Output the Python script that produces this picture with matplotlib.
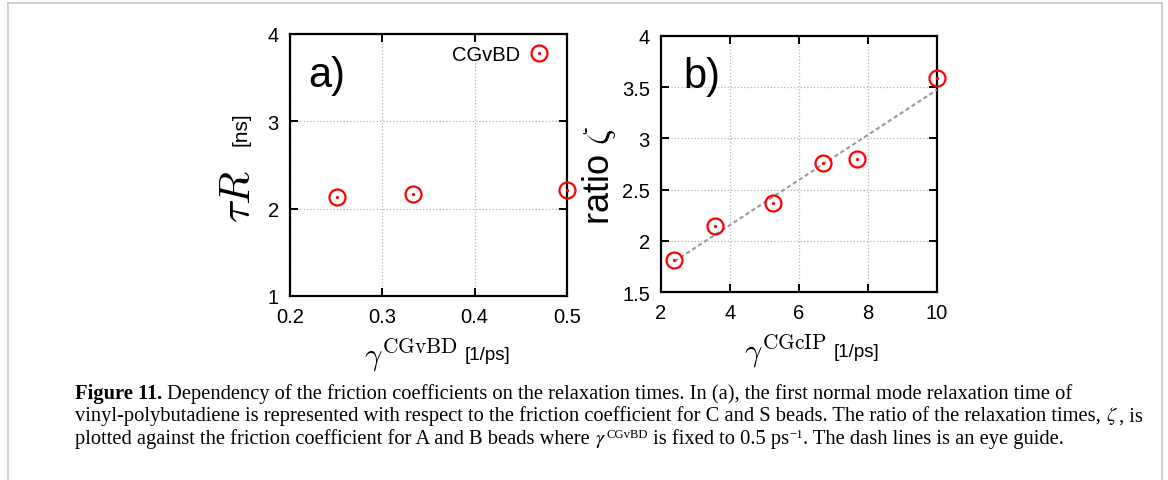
import numpy as np
import matplotlib
matplotlib.use("Agg")
import matplotlib.pyplot as plt
from matplotlib.lines import Line2D
from matplotlib.ticker import FuncFormatter
from matplotlib.legend_handler import HandlerTuple

plt.rcParams["font.family"] = "Liberation Sans"

# ---------------------------------------------------------------------------
# Dati
# ---------------------------------------------------------------------------
# pannello a): tau_R contro gamma^CGvBD
gamma_vbd = [0.251, 0.333, 0.500]
tau_r = [2.13, 2.17, 2.21]

# pannello b): rapporto zeta contro gamma^CGcIP
gamma_cip = [2.39, 3.57, 5.26, 6.69, 7.68, 10.0]
ratio_zeta = [1.81, 2.15, 2.37, 2.76, 2.80, 3.59]

a_xticks = [0.2, 0.3, 0.4, 0.5]
a_yticks = [1, 2, 3, 4]
b_xticks = [2, 4, 6, 8, 10]
b_yticks = [1.5, 2, 2.5, 3, 3.5, 4]

# didascalia: ogni riga e' una lista di pezzi (testo, stile)
# stile: "b" grassetto, "r" normale, "m" math, "s" apice
caption = [
    [("Figure 11.", "b"),
     (" Dependency of the friction coefficients on the relaxation times. In (a), the first normal mode relaxation time of", "r")],
    [("vinyl-polybutadiene is represented with respect to the friction coefficient for C and S beads. The ratio of the relaxation times, ", "r"),
     (r"$\zeta$", "m"), (", is", "r")],
    [("plotted against the friction coefficient for A and B beads where ", "r"),
     (r"$\gamma$", "m"), ("CGvBD", "s"), (" is fixed to 0.5 ps", "r"),
     ("\u22121", "s"), (". The dash lines is an eye guide.", "r")],
]

RED = "red"


def style_axes(ax, xlim, ylim, xticks, yticks):
    ax.set_xlim(xlim)
    ax.set_ylim(ylim)
    ax.set_xticks(xticks)
    ax.set_yticks(yticks)
    ax.xaxis.set_major_formatter(FuncFormatter(lambda v, p: f"{v:g}"))
    ax.yaxis.set_major_formatter(FuncFormatter(lambda v, p: f"{v:g}"))
    ax.tick_params(direction="in", length=6, width=1.4, top=True, right=True,
                   labelsize=14.5, pad=8)
    ax.grid(True, color="#b4b4b4", ls=":", lw=0.9)
    for s in ax.spines.values():
        s.set_linewidth(1.6)


def points(ax, x, y):
    ring, = ax.plot(x, y, ls="none", marker="o", ms=11.5, mfc="none", mec=RED,
                    mew=1.6, clip_on=False, zorder=5)
    dot, = ax.plot(x, y, ls="none", marker="o", ms=1.3, color=RED,
                   clip_on=False, zorder=6)
    return ring, dot


fig = plt.figure(figsize=(11.68, 4.81), dpi=100)
W, H = 1168, 481

# --- pannello a ---
axa = fig.add_axes([290 / W, 1 - 297 / H, 277 / W, 262 / H])
style_axes(axa, (0.2, 0.5), (1, 4), a_xticks, a_yticks)
ring, dot = points(axa, gamma_vbd, tau_r)
axa.legend([(ring, dot)], ["CGvBD"], handler_map={tuple: HandlerTuple(ndivide=1)},
           loc="upper right", bbox_to_anchor=(1.0 + 1 / 277, 1.0 + 8 / 262),
           markerfirst=False, frameon=False, fontsize=14.5,
           handlelength=1.0, handletextpad=0.45, borderaxespad=0.65, borderpad=0.3)
axa.text(0.065, 0.80, "a)", transform=axa.transAxes, fontsize=30, va="baseline")
axa.text(-0.184, 0.385, r"$\tau R$", transform=axa.transAxes, rotation=90,
         fontsize=31, ha="center", va="center", math_fontfamily="cm")
axa.text(-0.177, 0.64, "[ns]", transform=axa.transAxes, rotation=90,
         fontsize=15, ha="center", va="center")
axa.text(0.606, -0.262, r"$\gamma^{\rm CGvBD}$", transform=axa.transAxes,
         fontsize=22, ha="right", va="baseline", math_fontfamily="cm")
axa.text(0.632, -0.24, "[1/ps]", transform=axa.transAxes, fontsize=13.5,
         ha="left", va="baseline")

# --- pannello b ---
axb = fig.add_axes([661 / W, 1 - 293.3 / H, 276 / W, 256.6 / H])
style_axes(axb, (2, 10), (1.5, 4), b_xticks, b_yticks)
slope, icpt = np.polyfit(gamma_cip, ratio_zeta, 1)
fit_x = np.array([min(gamma_cip), max(gamma_cip)])
axb.plot(fit_x, slope * fit_x + icpt, color="#9a9a9a", lw=1.5, dashes=(2, 1.4),
         zorder=3)
points(axb, gamma_cip, ratio_zeta)
axb.text(0.08, 0.80, "b)", transform=axb.transAxes, fontsize=30, va="baseline")
axb.text(-0.225, 0.46, r"ratio $\zeta$", transform=axb.transAxes, rotation=90,
         fontsize=26, ha="center", va="center", math_fontfamily="cm")
axb.text(0.601, -0.265, r"$\gamma^{\rm CGcIP}$", transform=axb.transAxes,
         fontsize=22, ha="right", va="baseline", math_fontfamily="cm")
axb.text(0.627, -0.25, "[1/ps]", transform=axb.transAxes, fontsize=13.5,
         ha="left", va="baseline")

# --- didascalia, scritta pezzo per pezzo ---
renderer = fig.canvas.get_renderer()
cap_size = 14.8
baselines = [399, 421.5, 444]
for pieces, yb in zip(caption, baselines):
    xpix = 75
    for txt, kind in pieces:
        kw = dict(family="Liberation Serif", fontsize=cap_size, va="baseline",
                  math_fontfamily="stix")
        ypix = yb
        if kind == "b":
            kw["fontweight"] = "bold"
        elif kind == "s":
            kw["fontsize"] = cap_size * 0.62
            ypix = yb - 6
        t = fig.text(xpix / W, 1 - ypix / H, txt, **kw)
        xpix = t.get_window_extent(renderer).x1 + (1 if kind == "m" else 0)

# --- cornice della pagina ---
frame_kw = dict(color="#c8c8c8", lw=1.2, transform=fig.transFigure)
x0, x1, yt = 7.5 / W, 1162 / W, 1 - 4 / H
fig.add_artist(Line2D([x0, x0], [0, yt], **frame_kw))
fig.add_artist(Line2D([x0, x1], [yt, yt], **frame_kw))
fig.add_artist(Line2D([x1, x1], [0, yt], **frame_kw))

fig.savefig("out.png", dpi=100)
